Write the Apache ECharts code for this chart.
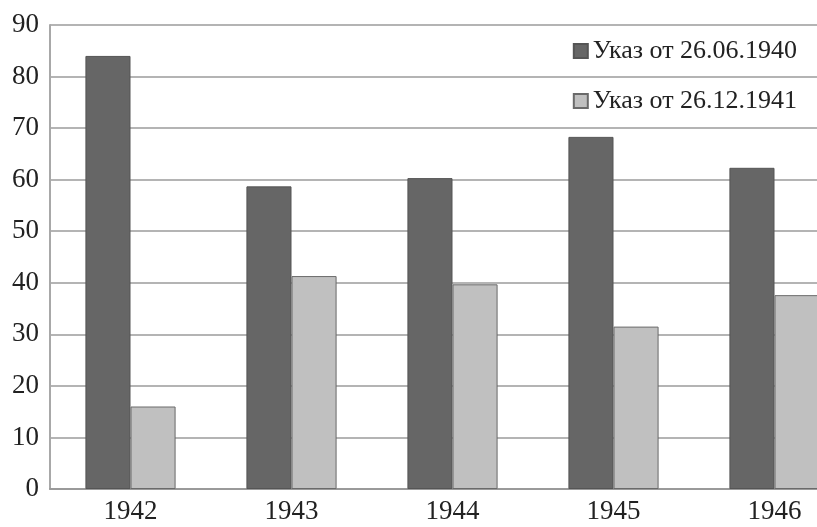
<!DOCTYPE html>
<html><head><meta charset="utf-8">
<script src="https://cdn.jsdelivr.net/npm/echarts@6/dist/echarts.min.js"></script>
<style>html,body{margin:0;padding:0;background:#fff}#c{width:817px;height:527px}</style>
</head><body><div id="c"></div>
<script>
const categories = ['1942','1943','1944','1945','1946'];
const series1Name = 'Указ от 26.06.1940';
const series2Name = 'Указ от 26.12.1941';
const series1 = [84.0, 58.7, 60.3, 68.3, 62.3];
const series2 = [16.0, 41.3, 39.7, 31.5, 37.6];
const yTicks = [0,10,20,30,40,50,60,70,80,90];

const chart = echarts.init(document.getElementById('c'), null, {renderer:'canvas'});
const font = 'Liberation Serif';
chart.setOption({
  animation:false,
  backgroundColor:'#fff',
  grid:{left:50, top:25, right:-38, bottom:38, containLabel:false, outerBoundsMode:'none'},
  legend:{
    orient:'vertical', right:15, top:33, itemGap:24,
    itemWidth:14, itemHeight:14, icon:'rect',
    textStyle:{fontFamily:font, fontSize:26, color:'#222'},
    data:[series1Name, series2Name]
  },
  xAxis:{type:'category', data:categories,
    axisLine:{lineStyle:{color:'#9a9a9a', width:2}},
    axisTick:{show:false},
    axisLabel:{fontFamily:font, fontSize:27, color:'#222', margin:9}
  },
  yAxis:{type:'value', min:yTicks[0], max:yTicks[yTicks.length-1], interval:10,
    axisLine:{show:true, lineStyle:{color:'#a8a8a8', width:2}},
    axisTick:{show:false},
    splitLine:{lineStyle:{color:'#b4b4b4', width:2}},
    axisLabel:{fontFamily:font, fontSize:27, color:'#222', margin:11}
  },
  series:[
    {name:series1Name, type:'bar', data:series1, barGap:'0%', barCategoryGap:'44%',
      itemStyle:{color:'#666666', borderColor:'#555', borderWidth:1}},
    {name:series2Name, type:'bar', data:series2,
      itemStyle:{color:'#c0c0c0', borderColor:'#6a6a6a', borderWidth:1}}
  ]
});
</script></body></html>
